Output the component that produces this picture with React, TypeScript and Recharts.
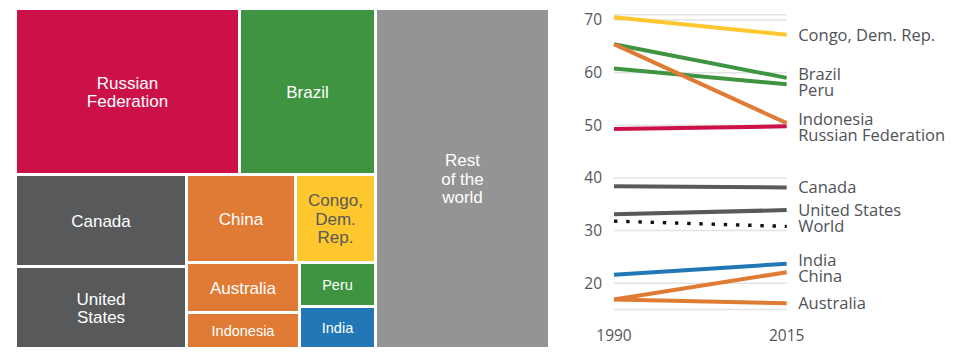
import React from 'react';
import {
  Treemap,
  LineChart,
  Line,
  XAxis,
  YAxis,
  CartesianGrid,
  LabelList,
} from 'recharts';

// Forest area by country (million ha)
const countries = [
  'Russian Federation',
  'Brazil',
  'Canada',
  'United States',
  'China',
  'Congo, Dem. Rep.',
  'Australia',
  'Indonesia',
  'Peru',
  'India',
];
const forestArea = [815, 495, 347, 305, 210, 155, 125, 89, 74, 70];
const restOfWorldArea = 1295;

// Forest share of land area (%)
const years = [1990, 2015];
const congoShare = [70.5, 67.2];
const brazilShare = [65.4, 59.0];
const peruShare = [60.8, 57.8];
const indonesiaShare = [65.4, 50.4];
const russiaShare = [49.3, 49.8];
const canadaShare = [38.4, 38.2];
const usShare = [33.1, 33.9];
const worldShare = [31.8, 30.8];
const indiaShare = [21.6, 23.7];
const chinaShare = [16.9, 22.1];
const australiaShare = [16.9, 16.2];
const shareTicks = [20, 30, 40, 50, 60, 70];

const RED = '#cc1048';
const GREEN = '#3e9440';
const GRAY = '#58595b';
const ORANGE = '#df7b35';
const YELLOW = '#fdc72d';
const BLUE = '#2277b6';
const LIGHT_GRAY = '#949494';

const tileColor: Record<string, string> = {
  'Russian Federation': RED,
  Brazil: GREEN,
  Canada: GRAY,
  'United States': GRAY,
  China: ORANGE,
  'Congo, Dem. Rep.': YELLOW,
  Australia: ORANGE,
  Indonesia: ORANGE,
  Peru: GREEN,
  India: BLUE,
  'Rest of the world': LIGHT_GRAY,
};

const tileLines: Record<string, string[]> = {
  'Russian Federation': ['Russian', 'Federation'],
  'United States': ['United', 'States'],
  'Congo, Dem. Rep.': ['Congo,', 'Dem.', 'Rep.'],
  'Rest of the world': ['Rest', 'of the', 'world'],
};

const smallTiles = ['Indonesia', 'Peru', 'India'];

const leaf = (i: number) => ({ name: countries[i], size: forestArea[i] });

// nesting mirrors the blocks of the original layout; the zero-size spacer
// keeps Australia and Indonesia stacked in one column
const forestTree = [
  { children: [leaf(0), leaf(1)] },
  {
    children: [
      leaf(2),
      leaf(3),
      {
        children: [
          { children: [leaf(4), leaf(5)] },
          {
            children: [
              { children: [{ name: '', size: 0 }, leaf(6), leaf(7)] },
              { children: [leaf(8), leaf(9)] },
            ],
          },
        ],
      },
    ],
  },
  { name: 'Rest of the world', size: restOfWorldArea },
];

const renderTile = (node: any) => {
  const { x, y, width, height, name, children } = node;
  if ((children && children.length) || !name || !tileColor[name]) return null;
  const w = width - 3;
  const h = height - 3;
  if (w <= 0 || h <= 0) return null;
  const lines = tileLines[name] || [name];
  const small = smallTiles.includes(name);
  const fs = small ? 14.5 : 17;
  const lh = 18.2;
  const cx = x + w / 2;
  const cy = y + h / 2;
  const textFill = name === 'Congo, Dem. Rep.' ? GRAY : '#ffffff';
  return (
    <g>
      <rect x={x} y={y} width={w} height={h} fill={tileColor[name]} />
      <text
        textAnchor="middle"
        fill={textFill}
        fontSize={fs}
        fontFamily="'Liberation Sans', Arial, sans-serif"
      >
        {lines.map((line, i) => (
          <tspan
            key={i}
            x={cx}
            y={cy + 0.36 * fs + (i - (lines.length - 1) / 2) * lh}
          >
            {line}
          </tspan>
        ))}
      </text>
    </g>
  );
};

const series = [
  { key: 'russia', name: 'Russian Federation', values: russiaShare },
  { key: 'canada', name: 'Canada', values: canadaShare },
  { key: 'us', name: 'United States', values: usShare },
  { key: 'world', name: 'World', values: worldShare },
  { key: 'india', name: 'India', values: indiaShare },
  { key: 'australia', name: 'Australia', values: australiaShare },
  { key: 'china', name: 'China', values: chinaShare },
  { key: 'peru', name: 'Peru', values: peruShare },
  { key: 'brazil', name: 'Brazil', values: brazilShare },
  { key: 'congo', name: 'Congo, Dem. Rep.', values: congoShare },
  { key: 'indonesia', name: 'Indonesia', values: indonesiaShare },
];

const lineStyle: Record<string, { color: string; dash?: string; width: number; labelDy: number }> = {
  russia: { color: RED, width: 4, labelDy: 8.5 },
  canada: { color: GRAY, width: 4, labelDy: 0 },
  us: { color: GRAY, width: 4, labelDy: 0 },
  world: { color: '#111111', width: 3.4, dash: '3.4 8.8', labelDy: 0 },
  india: { color: BLUE, width: 4, labelDy: -4 },
  australia: { color: ORANGE, width: 4, labelDy: 0 },
  china: { color: ORANGE, width: 4, labelDy: 3.5 },
  peru: { color: GREEN, width: 4, labelDy: 6 },
  brazil: { color: GREEN, width: 4, labelDy: -4 },
  congo: { color: YELLOW, width: 4, labelDy: 0 },
  indonesia: { color: ORANGE, width: 4, labelDy: -4.5 },
};

const shareRows = years.map((year, i) => {
  const row: Record<string, number> = { year };
  series.forEach(s => {
    row[s.key] = s.values[i];
  });
  return row;
});

const axisFont = { fill: '#555659', fontSize: 15.5, fontFamily: "'Open Sans', sans-serif" };

const renderEndLabel = (props: any, name: string, dy: number) => {
  if (props.index !== years.length - 1) return null;
  const x = props.viewBox?.x ?? props.x;
  const y = props.viewBox?.y ?? props.y;
  const fs = 16.5;
  return (
    <text
      x={x + 11.5}
      y={y + 0.36 * fs + dy}
      fill="#505256"
      fontSize={fs}
      fontFamily="'Open Sans', sans-serif"
    >
      {name}
    </text>
  );
};

const App: React.FC = () => {
  return (
    <div style={{ position: 'relative', width: 944, height: 344 }}>
      <div style={{ position: 'absolute', left: 9, top: 2 }}>
        <Treemap
          width={534}
          height={340}
          data={forestTree}
          dataKey="size"
          aspectRatio={1.125}
          isAnimationActive={false}
          content={renderTile as any}
        />
      </div>
      <div style={{ position: 'absolute', left: 552, top: 0 }}>
        <LineChart
          width={400}
          height={344}
          data={shareRows}
          margin={{ top: 6.7, right: 173.3, bottom: 12.4, left: 0 }}
        >
          <CartesianGrid vertical={false} stroke="#e3e3e3" strokeWidth={1.5} />
          <XAxis
            dataKey="year"
            type="number"
            domain={[1990, 2015]}
            ticks={years}
            axisLine={false}
            tickLine={false}
            tickSize={0}
            tickMargin={20}
            height={30}
            tick={axisFont}
          />
          <YAxis
            type="number"
            domain={[15, 71]}
            ticks={shareTicks}
            interval={0}
            axisLine={false}
            tickLine={false}
            tickSize={0}
            tickMargin={12}
            width={54}
            tick={axisFont}
          />
          {series.map(s => {
            const st = lineStyle[s.key];
            return (
              <Line
                key={s.key}
                type="linear"
                dataKey={s.key}
                stroke={st.color}
                strokeWidth={st.width}
                strokeDasharray={st.dash}
                dot={false}
                activeDot={false}
                isAnimationActive={false}
              >
                <LabelList
                  dataKey={s.key}
                  content={(p: any) => renderEndLabel(p, s.name, st.labelDy)}
                />
              </Line>
            );
          })}
        </LineChart>
      </div>
    </div>
  );
};

export default App;
